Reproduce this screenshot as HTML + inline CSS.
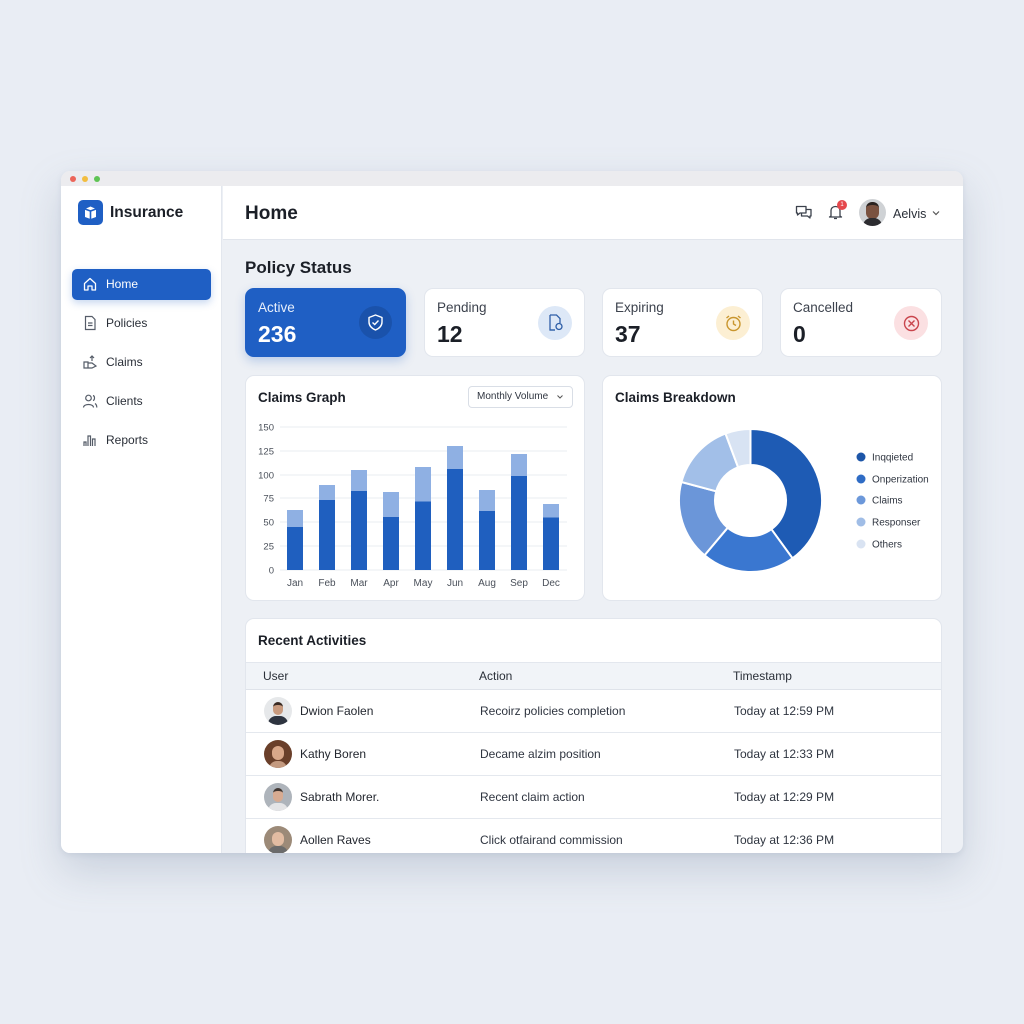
<!DOCTYPE html>
<html><head><meta charset="utf-8">
<style>
*{margin:0;padding:0;box-sizing:border-box}
body{width:1024px;height:1024px;background:#e9edf4;font-family:"Liberation Sans",sans-serif;position:relative;overflow:hidden;color:#1b1f27}
.a{position:absolute}
.win{position:absolute;left:61px;top:171px;width:902px;height:682px;border-radius:9px;background:#edf0f5;overflow:hidden;box-shadow:0 18px 40px rgba(120,135,160,.28),0 2px 6px rgba(120,135,160,.15)}
.tb{position:absolute;left:0;top:0;width:902px;height:15px;background:#ececef}
.dot{position:absolute;top:5px;width:6px;height:6px;border-radius:50%}
.side{position:absolute;left:0;top:15px;width:161px;height:667px;background:#fff;border-right:1px solid #e3e7ee}
.hdr{position:absolute;left:162px;top:15px;width:740px;height:54px;background:#fff;border-bottom:1px solid #e1e5ec}
.t{position:absolute;white-space:nowrap}
.card{position:absolute;background:#fff;border-radius:9px;border:1px solid #e2e6ed}
.nav{position:absolute;left:11px;width:139px;height:31px;font-size:12px;color:#2a2f38}
.nav span{position:absolute;left:34px;top:0;line-height:31px}
.nav svg{position:absolute;left:10px;top:7px}
</style></head><body>
<div class="win">
  <div class="tb">
    <div class="dot" style="left:9px;background:#ec6559"></div>
    <div class="dot" style="left:21px;background:#f2bd3f"></div>
    <div class="dot" style="left:33px;background:#5fc454"></div>
  </div>
  <div class="side">
    <div class="a" style="left:17px;top:14px;width:25px;height:25px;border-radius:5px;background:#1f5fc4">
      <svg width="25" height="25" viewBox="0 0 25 25"><path d="M7 9 L12.5 6.5 L18 9 L18 17 L12.5 19 L7 17 Z" fill="#fff"/><path d="M12.5 11 L12.5 19 M7 9 L12.5 11 L18 9" stroke="#1f5fc4" stroke-width="1.6" fill="none"/></svg>
    </div>
    <div class="t" style="left:49px;top:17px;font-size:15.5px;font-weight:700;line-height:20px;color:#1b1f27">Insurance</div>
    <div class="nav" style="top:83px;background:#1f5fc4;border-radius:5px;color:#fff;box-shadow:0 3px 8px rgba(31,95,196,.25)">
      <svg width="16" height="16" viewBox="0 0 16 16"><path d="M2.5 7.5 L8 2.5 L13.5 7.5 L13.5 14 L10 14 L10 10 L6 10 L6 14 L2.5 14 Z" fill="none" stroke="#fff" stroke-width="1.3" stroke-linejoin="round"/></svg>
      <span>Home</span></div>
    <div class="nav" style="top:122px">
      <svg width="16" height="16" viewBox="0 0 16 16"><path d="M3.5 1.5 H10 L13 4.5 V14.5 H3.5 Z" fill="none" stroke="#555c68" stroke-width="1.2"/><path d="M6 8 H10.5 M6 10.5 H10.5" stroke="#555c68" stroke-width="1.2"/></svg>
      <span>Policies</span></div>
    <div class="nav" style="top:161px">
      <svg width="16" height="16" viewBox="0 0 16 16"><path d="M2 8 H6 V14 H2 Z M6 9 L10 9 L14 12 L10 14 L6 14" fill="none" stroke="#555c68" stroke-width="1.2"/><path d="M10 7 V2 M8 4 L10 2 L12 4" fill="none" stroke="#555c68" stroke-width="1.2"/></svg>
      <span>Claims</span></div>
    <div class="nav" style="top:200px">
      <svg width="16" height="16" viewBox="0 0 16 16"><circle cx="6.5" cy="5" r="2.8" fill="none" stroke="#555c68" stroke-width="1.2"/><path d="M1.5 14.5 C1.5 10.5 11.5 10.5 11.5 14.5" fill="none" stroke="#555c68" stroke-width="1.2"/><path d="M11 2.5 C13 3 13 7 11 7.5 M13 10.5 C14.5 11.5 14.8 13 14.8 14.5" fill="none" stroke="#555c68" stroke-width="1.2"/></svg>
      <span>Clients</span></div>
    <div class="nav" style="top:239px">
      <svg width="16" height="16" viewBox="0 0 16 16"><path d="M2 14 V10 H4 V14 M6 14 V4 H8.5 V14 M10.5 14 V7 H13 V14" fill="none" stroke="#555c68" stroke-width="1.2"/></svg>
      <span>Reports</span></div>
  </div>
  <div class="hdr">
    <div class="t" style="left:22px;top:16px;font-size:19px;font-weight:700;line-height:24px">Home</div>
    <svg class="a" style="left:572px;top:18px" width="18" height="18" viewBox="0 0 18 18"><path d="M1.5 2.5 H11 V9 H5 L2.5 11 V9 H1.5 Z" fill="none" stroke="#3b414c" stroke-width="1.3" stroke-linejoin="round"/><path d="M11 5.5 H16 V12 H15 V14 L12.5 12 H6.5 V9" fill="none" stroke="#3b414c" stroke-width="1.3" stroke-linejoin="round"/></svg>
    <svg class="a" style="left:604px;top:17px" width="18" height="18" viewBox="0 0 18 18"><path d="M4 13 V8 C4 5 6 3.5 8.5 3.5 C11 3.5 13 5 13 8 V13 L14.5 14 H2.5 Z" fill="none" stroke="#3b414c" stroke-width="1.3" stroke-linejoin="round"/><path d="M7 15.5 H10" stroke="#3b414c" stroke-width="1.3"/></svg>
    <div class="a" style="left:614px;top:14px;width:10px;height:10px;border-radius:50%;background:#e5484d;color:#fff;font-size:6px;line-height:10px;text-align:center">1</div>
    <div class="a" style="left:636px;top:13px;width:27px;height:27px;border-radius:50%;background:#cfd2d5;overflow:hidden">
      <div class="a" style="left:7px;top:3px;width:13px;height:17px;border-radius:6px;background:#7a5240;border-top:3px solid #2a2320"></div>
      <div class="a" style="left:4px;top:19px;width:19px;height:12px;border-radius:8px 8px 0 0;background:#2c2c30"></div>
    </div>
    <div class="t" style="left:670px;top:20px;font-size:12.5px;line-height:16px;color:#2a2f38">Aelvis</div>
    <svg class="a" style="left:708px;top:23px" width="10" height="8" viewBox="0 0 10 8"><path d="M2 2.5 L5 5.5 L8 2.5" fill="none" stroke="#555" stroke-width="1.2"/></svg>
  </div>
  <div class="t" style="left:184px;top:86px;font-size:17px;font-weight:700;line-height:22px">Policy Status</div>

  <div class="card" style="left:184px;top:117px;width:161px;height:69px;background:#1f5fc4;border-color:#1f5fc4;box-shadow:0 4px 10px rgba(31,95,196,.25)">
    <div class="t" style="left:12px;top:11px;font-size:13.5px;color:#e6eefb;line-height:16px">Active</div>
    <div class="t" style="left:12px;top:32px;font-size:23px;font-weight:700;color:#fff;line-height:26px">236</div>
    <div class="a" style="left:113px;top:17px;width:33px;height:33px;border-radius:50%;background:#1a52ab"></div>
    <svg class="a" style="left:120px;top:24px" width="19" height="19" viewBox="0 0 19 19"><path d="M9.5 2 L16 4.5 V9 C16 13 13 15.5 9.5 17 C6 15.5 3 13 3 9 V4.5 Z" fill="none" stroke="#fff" stroke-width="1.4" stroke-linejoin="round"/><path d="M6.5 9.5 L8.7 11.5 L12.5 7.5" fill="none" stroke="#fff" stroke-width="1.4"/></svg>
  </div>
  <div class="card" style="left:363px;top:117px;width:161px;height:69px">
    <div class="t" style="left:12px;top:11px;font-size:13.5px;color:#3c424d;line-height:16px">Pending</div>
    <div class="t" style="left:12px;top:32px;font-size:23px;font-weight:700;line-height:26px">12</div>
    <div class="a" style="left:113px;top:17px;width:34px;height:34px;border-radius:50%;background:#dde8f7"></div>
    <svg class="a" style="left:121px;top:24px" width="19" height="19" viewBox="0 0 19 19"><path d="M4 2 H10.5 L14 5.5 V10 M9 17 H4 Z" fill="none" stroke="#2f5fa8" stroke-width="1.3"/><path d="M4 2 V17 H9" fill="none" stroke="#2f5fa8" stroke-width="1.3"/><circle cx="13" cy="13.5" r="3" fill="none" stroke="#2f5fa8" stroke-width="1.3"/></svg>
  </div>
  <div class="card" style="left:541px;top:117px;width:161px;height:69px">
    <div class="t" style="left:12px;top:11px;font-size:13.5px;color:#3c424d;line-height:16px">Expiring</div>
    <div class="t" style="left:12px;top:32px;font-size:23px;font-weight:700;line-height:26px">37</div>
    <div class="a" style="left:113px;top:17px;width:34px;height:34px;border-radius:50%;background:#fcefd3"></div>
    <svg class="a" style="left:121px;top:25px" width="19" height="19" viewBox="0 0 19 19"><circle cx="9.5" cy="10" r="6.5" fill="none" stroke="#c9962e" stroke-width="1.4"/><path d="M9.5 6.5 V10 L12 11.5 M2.5 4 L5 2 M16.5 4 L14 2" fill="none" stroke="#c9962e" stroke-width="1.4"/></svg>
  </div>
  <div class="card" style="left:719px;top:117px;width:162px;height:69px">
    <div class="t" style="left:12px;top:11px;font-size:13.5px;color:#3c424d;line-height:16px">Cancelled</div>
    <div class="t" style="left:12px;top:32px;font-size:23px;font-weight:700;line-height:26px">0</div>
    <div class="a" style="left:113px;top:17px;width:34px;height:34px;border-radius:50%;background:#fbe0e2"></div>
    <svg class="a" style="left:121px;top:25px" width="19" height="19" viewBox="0 0 19 19"><circle cx="9.5" cy="9.5" r="7" fill="none" stroke="#c9444c" stroke-width="1.4"/><path d="M6.5 6.5 L12.5 12.5 M12.5 6.5 L6.5 12.5" stroke="#c9444c" stroke-width="1.4"/></svg>
  </div>

  <div class="card" style="left:184px;top:204px;width:340px;height:226px">
    <div class="t" style="left:12px;top:13px;font-size:13.5px;font-weight:700;line-height:18px">Claims Graph</div>
    <div class="a" style="left:222px;top:10px;width:105px;height:22px;border:1px solid #d9dee6;border-radius:4px;font-size:10px;line-height:20px;color:#2f3540;padding-left:8px">Monthly Volume
      <svg class="a" style="left:87px;top:7px" width="8" height="6" viewBox="0 0 8 6"><path d="M1.5 1.5 L4 4 L6.5 1.5" fill="none" stroke="#555" stroke-width="1"/></svg></div>
  </div>
  <div class="card" style="left:541px;top:204px;width:340px;height:226px">
    <div class="t" style="left:12px;top:13px;font-size:13.5px;font-weight:700;line-height:18px">Claims Breakdown</div>
  </div>
  <div class="card" style="left:184px;top:447px;width:697px;height:250px;overflow:hidden">
    <div class="t" style="left:12px;top:13px;font-size:13.5px;font-weight:700;line-height:18px">Recent Activities</div>
    <div class="a" style="left:0;top:43px;width:697px;height:28px;background:#f1f4f8;border-top:1px solid #e3e7ee;border-bottom:1px solid #dfe3ea"></div>
    <div class="t" style="left:17px;top:50px;font-size:12px;line-height:14px;color:#2a2f38">User</div>
    <div class="t" style="left:233px;top:50px;font-size:12px;line-height:14px;color:#2a2f38">Action</div>
    <div class="t" style="left:487px;top:50px;font-size:12px;line-height:14px;color:#2a2f38">Timestamp</div>
    <div class="a" style="left:0;top:113px;width:697px;height:1px;background:#e4e8ee"></div>
    <div class="a" style="left:0;top:156px;width:697px;height:1px;background:#e4e8ee"></div>
    <div class="a" style="left:0;top:199px;width:697px;height:1px;background:#e4e8ee"></div>

    <div class="a" style="left:18px;top:78px;width:28px;height:28px;border-radius:50%;background:#e6e8ea;overflow:hidden">
      <div class="a" style="left:9px;top:5px;width:10px;height:13px;border-radius:5px;background:#c89a7e;border-top:3px solid #3a2a22"></div>
      <div class="a" style="left:4px;top:19px;width:20px;height:12px;border-radius:8px 8px 0 0;background:#2e3440"></div></div>
    <div class="a" style="left:18px;top:121px;width:28px;height:28px;border-radius:50%;background:#6a3f2a;overflow:hidden">
      <div class="a" style="left:8px;top:6px;width:12px;height:14px;border-radius:6px;background:#d9a789"></div>
      <div class="a" style="left:5px;top:21px;width:18px;height:10px;border-radius:8px 8px 0 0;background:#c49a80"></div></div>
    <div class="a" style="left:18px;top:164px;width:28px;height:28px;border-radius:50%;background:#aeb4bb;overflow:hidden">
      <div class="a" style="left:9px;top:5px;width:10px;height:14px;border-radius:5px;background:#d7ab92;border-top:3px solid #3f3530"></div>
      <div class="a" style="left:4px;top:20px;width:20px;height:10px;border-radius:8px 8px 0 0;background:#e4e4e6"></div></div>
    <div class="a" style="left:18px;top:207px;width:28px;height:28px;border-radius:50%;background:#9c8a78;overflow:hidden">
      <div class="a" style="left:8px;top:6px;width:12px;height:14px;border-radius:6px;background:#e2bca2"></div>
      <div class="a" style="left:4px;top:20px;width:20px;height:10px;border-radius:8px 8px 0 0;background:#6b6b6b"></div></div>

    <div class="t" style="left:54px;top:85px;font-size:12px;line-height:14px;color:#23272f">Dwion Faolen</div>
    <div class="t" style="left:54px;top:128px;font-size:12px;line-height:14px;color:#23272f">Kathy Boren</div>
    <div class="t" style="left:54px;top:171px;font-size:12px;line-height:14px;color:#23272f">Sabrath Morer.</div>
    <div class="t" style="left:54px;top:214px;font-size:12px;line-height:14px;color:#23272f">Aollen Raves</div>
    <div class="t" style="left:234px;top:85px;font-size:12px;line-height:14px;color:#2f3540">Recoirz policies completion</div>
    <div class="t" style="left:234px;top:128px;font-size:12px;line-height:14px;color:#2f3540">Decame alzim position</div>
    <div class="t" style="left:234px;top:171px;font-size:12px;line-height:14px;color:#2f3540">Recent claim action</div>
    <div class="t" style="left:234px;top:214px;font-size:12px;line-height:14px;color:#2f3540">Click otfairand commission</div>
    <div class="t" style="left:488px;top:85px;font-size:12px;line-height:14px;color:#2f3540">Today at 12:59 PM</div>
    <div class="t" style="left:488px;top:128px;font-size:12px;line-height:14px;color:#2f3540">Today at 12:33 PM</div>
    <div class="t" style="left:488px;top:171px;font-size:12px;line-height:14px;color:#2f3540">Today at 12:29 PM</div>
    <div class="t" style="left:488px;top:214px;font-size:12px;line-height:14px;color:#2f3540">Today at 12:36 PM</div>
  </div>
</div>

<svg class="a" style="left:0;top:0" width="1024" height="1024" viewBox="0 0 1024 1024" font-family="Liberation Sans, sans-serif">
  <g stroke="#e9ecf1" stroke-width="1">
    <line x1="280" y1="427" x2="567" y2="427"/><line x1="280" y1="451" x2="567" y2="451"/>
    <line x1="280" y1="475" x2="567" y2="475"/><line x1="280" y1="498" x2="567" y2="498"/>
    <line x1="280" y1="522" x2="567" y2="522"/><line x1="280" y1="546" x2="567" y2="546"/>
    <line x1="280" y1="570" x2="567" y2="570"/>
  </g>
  <g font-size="9.5" fill="#4a505a" text-anchor="end">
    <text x="274" y="430.5">150</text><text x="274" y="454.5">125</text><text x="274" y="478.5">100</text>
    <text x="274" y="501.5">75</text><text x="274" y="525.5">50</text><text x="274" y="549.5">25</text><text x="274" y="573.5">0</text>
  </g>
  <g fill="#8fb0e3">
    <rect x="287" y="510" width="16" height="60"/><rect x="319" y="485" width="16" height="85"/>
    <rect x="351" y="470" width="16" height="100"/><rect x="383" y="492" width="16" height="78"/>
    <rect x="415" y="467" width="16" height="103"/><rect x="447" y="446" width="16" height="124"/>
    <rect x="479" y="490" width="16" height="80"/><rect x="511" y="454" width="16" height="116"/>
    <rect x="543" y="504" width="16" height="66"/>
  </g>
  <g fill="#1f5fbf">
    <rect x="287" y="527" width="16" height="43"/><rect x="319" y="500" width="16" height="70"/>
    <rect x="351" y="491" width="16" height="79"/><rect x="383" y="517" width="16" height="53"/>
    <rect x="415" y="501.5" width="16" height="68.5"/><rect x="447" y="469" width="16" height="101"/>
    <rect x="479" y="511" width="16" height="59"/><rect x="511" y="476" width="16" height="94"/>
    <rect x="543" y="517.5" width="16" height="52.5"/>
  </g>
  <g font-size="10" fill="#4a505a" text-anchor="middle">
    <text x="295" y="586">Jan</text><text x="327" y="586">Feb</text><text x="359" y="586">Mar</text>
    <text x="391" y="586">Apr</text><text x="423" y="586">May</text><text x="455" y="586">Jun</text>
    <text x="487" y="586">Aug</text><text x="519" y="586">Sep</text><text x="551" y="586">Dec</text>
  </g>
  <g stroke="#fff" stroke-width="2" stroke-linejoin="round">
    <path fill="#1e5bb4" d="M750.5,429 A71.5,71.5 0 0 1 792.53,558.34 L771.37,529.22 A35.5,35.5 0 0 0 750.5,465 Z"/>
    <path fill="#3a77d0" d="M792.53,558.34 A71.5,71.5 0 0 1 704.54,555.27 L727.68,527.69 A35.5,35.5 0 0 0 771.37,529.22 Z"/>
    <path fill="#6b96d9" d="M704.54,555.27 A71.5,71.5 0 0 1 681.44,482 L716.21,491.31 A35.5,35.5 0 0 0 727.68,527.69 Z"/>
    <path fill="#a2bfe8" d="M681.44,482 A71.5,71.5 0 0 1 725.46,433.53 L738.07,467.25 A35.5,35.5 0 0 0 716.21,491.31 Z"/>
    <path fill="#d8e3f3" d="M725.46,433.53 A71.5,71.5 0 0 1 750.5,429 L750.5,465 A35.5,35.5 0 0 0 738.07,467.25 Z"/>
  </g>
  <circle cx="861" cy="457" r="4.5" fill="#1d56a8"/>
  <circle cx="861" cy="479" r="4.5" fill="#2f6cc5"/>
  <circle cx="861" cy="500" r="4.5" fill="#6c98da"/>
  <circle cx="861" cy="522" r="4.5" fill="#a0bde6"/>
  <circle cx="861" cy="544" r="4.5" fill="#d9e3f2"/>
  <g font-size="10" fill="#2f3540">
    <text x="872" y="460.5">Inqqieted</text><text x="872" y="482.5">Onperization</text>
    <text x="872" y="503.5">Claims</text><text x="872" y="525.5">Responser</text><text x="872" y="547.5">Others</text>
  </g>
</svg>
</body></html>
